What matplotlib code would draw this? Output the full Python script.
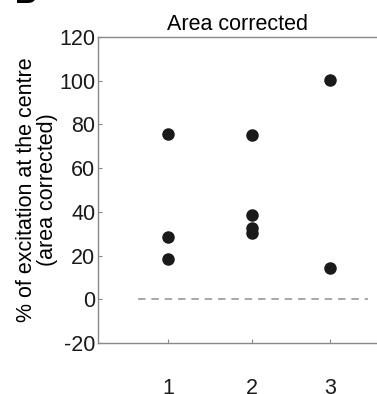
import matplotlib
matplotlib.use("Agg")
import matplotlib.pyplot as plt

plt.rcParams['font.family'] = ['Liberation Sans', 'DejaVu Sans']
plt.rcParams['axes.unicode_minus'] = False

# group positions and tick labels
group_x = [1.0, 2.0, 2.93]
group_labels = ['1', '2', '3']

# % of excitation at the centre (area corrected), per group
vals_1 = [75.8, 28.5, 18.3]
vals_2 = [75.2, 38.6, 32.5, 30.2]
vals_3 = [100.5, 14.5]

fig = plt.figure(figsize=(3.77, 3.94), dpi=100)
ax = fig.add_axes([0.26, 0.1294, 0.74, 0.7766])

for x, vals in zip(group_x, [vals_1, vals_2, vals_3]):
    ax.plot([x] * len(vals), vals, 'o', color='#1a1a1a', markersize=8, zorder=3)

ax.plot([0.64, 3.38], [0, 0], '--', color='#999999', lw=1.2, dashes=(4.5, 3.5))

ax.set_xlim(0.1667, 3.488)
ax.set_ylim(-20, 120)
ax.set_yticks(range(-20, 121, 20))
ax.set_xticks(group_x)
ax.set_xticklabels(group_labels)

for s in ['left', 'bottom', 'top']:
    ax.spines[s].set_color('#888888')
    ax.spines[s].set_linewidth(1.0)
ax.spines['right'].set_visible(False)
fs = 15.5
ax.tick_params(direction='in', length=3, width=0.8, color='#888888', labelsize=fs, labelcolor='#1a1a1a')
ax.tick_params(axis='y', pad=2)
ax.tick_params(axis='x', pad=25)

ax.set_title('Area corrected', fontsize=fs, pad=5)
ax.set_ylabel('% of excitation at the centre\n(area corrected)', fontsize=fs, labelpad=1, linespacing=1.0)

fig.text(0.04, 0.992, 'B', fontsize=22, fontweight='bold', va='baseline', ha='left')

fig.savefig('out.png', dpi=100)
